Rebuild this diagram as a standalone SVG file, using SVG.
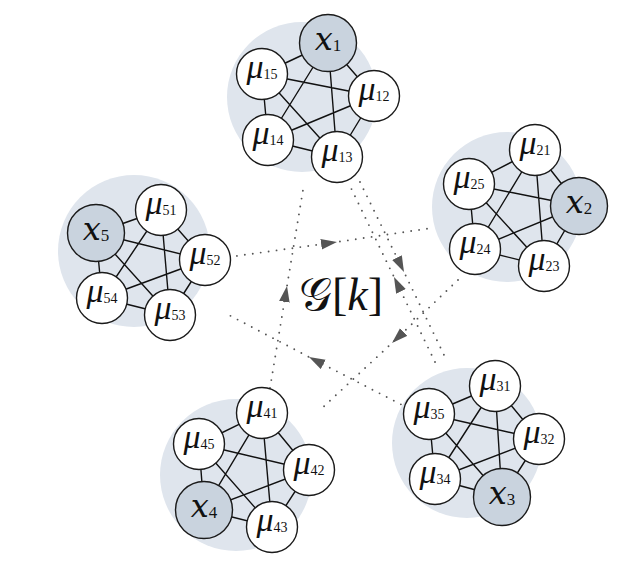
<svg xmlns="http://www.w3.org/2000/svg" width="638" height="582" viewBox="0 0 638 582">
<defs>
<style>
.bg{fill:#dfe5ed;stroke:none}
.e{fill:none;stroke:#111;stroke-width:1.4}
.dot{fill:none;stroke:#555;stroke-width:1.9;stroke-linecap:round;stroke-dasharray:0 8;marker-mid:url(#ah)}
.mu{fill:#fff;stroke:#1a1a1a;stroke-width:1.4}
.xn{fill:#c9d3de;stroke:#1a1a1a;stroke-width:1.4}
.t{font-family:"Liberation Serif","DejaVu Serif",serif;font-style:italic;fill:#111;text-anchor:middle}
.tm{font-size:34px}
.tx{font-size:32px;font-family:"DejaVu Serif","Liberation Serif",serif}
.s{font-style:normal;font-family:"Liberation Serif",serif}
.sm{font-size:14px}
.sx{font-size:17px}
</style>
<marker id="ah" viewBox="0 0 15 10" refX="15" refY="5" markerWidth="16" markerHeight="11" markerUnits="userSpaceOnUse" orient="auto">
<path d="M0 0L15 5L0 10z" fill="#555"/>
</marker>
</defs>
<rect width="638" height="582" fill="#fff"/>
<g id="clusters">
<circle class="bg" cx="302" cy="97" r="75"/>
<circle class="bg" cx="507" cy="207" r="75"/>
<circle class="bg" cx="467" cy="443" r="75"/>
<circle class="bg" cx="236" cy="475" r="76"/>
<circle class="bg" cx="134" cy="251" r="76"/>
</g>
<g id="connectors">
<path class="e" d="M328 43L374 96M328 43L337 157M328 43L268 140M328 43L262 74M374 96L337 157M374 96L268 140M374 96L262 74M337 157L268 140M337 157L262 74M268 140L262 74"/>
<path class="e" d="M535 150L579 206M535 150L544 266M535 150L475 249M535 150L469 184M579 206L544 266M579 206L475 249M579 206L469 184M544 266L475 249M544 266L469 184M475 249L469 184"/>
<path class="e" d="M495 386L539 439M495 386L502 497M495 386L435 479M495 386L429 414M539 439L502 497M539 439L435 479M539 439L429 414M502 497L435 479M502 497L429 414M435 479L429 414"/>
<path class="e" d="M262 413L309 470M262 413L272 527M262 413L204 510M262 413L199 444M309 470L272 527M309 470L204 510M309 470L199 444M272 527L204 510M272 527L199 444M204 510L199 444"/>
<path class="e" d="M161 210L205 260M161 210L170 315M161 210L102 298M161 210L96 233M205 260L170 315M205 260L102 298M205 260L96 233M170 315L102 298M170 315L96 233M102 298L96 233"/>
<path class="dot" d="M229 257L337 242L432 228"/>
<path class="dot" d="M270 388L287 286L303 190"/>
<path class="dot" d="M360 182L404 272L445 357"/>
<path class="dot" d="M435 362L394 277L350 186"/>
<path class="dot" d="M458 280L392 343L320 410"/>
<path class="dot" d="M408 408L309 357L225 313"/>
</g>
<g id="x1"><circle class="xn" cx="328" cy="43" r="28.5"/><text class="t tx" x="328" y="50">x<tspan class="s sx" dy="1">1</tspan></text></g>
<g id="mu12"><circle class="mu" cx="374" cy="96" r="25.5"/><text class="t tm" x="374" y="100">μ<tspan class="s sm" dy="1">12</tspan></text></g>
<g id="mu13"><circle class="mu" cx="337" cy="157" r="25.5"/><text class="t tm" x="337" y="161">μ<tspan class="s sm" dy="1">13</tspan></text></g>
<g id="mu14"><circle class="mu" cx="268" cy="140" r="25.5"/><text class="t tm" x="268" y="144">μ<tspan class="s sm" dy="1">14</tspan></text></g>
<g id="mu15"><circle class="mu" cx="262" cy="74" r="25.5"/><text class="t tm" x="262" y="78">μ<tspan class="s sm" dy="1">15</tspan></text></g>
<g id="mu21"><circle class="mu" cx="535" cy="150" r="25.5"/><text class="t tm" x="535" y="154">μ<tspan class="s sm" dy="1">21</tspan></text></g>
<g id="x2"><circle class="xn" cx="579" cy="206" r="28.5"/><text class="t tx" x="579" y="213">x<tspan class="s sx" dy="1">2</tspan></text></g>
<g id="mu23"><circle class="mu" cx="544" cy="266" r="25.5"/><text class="t tm" x="544" y="270">μ<tspan class="s sm" dy="1">23</tspan></text></g>
<g id="mu24"><circle class="mu" cx="475" cy="249" r="25.5"/><text class="t tm" x="475" y="253">μ<tspan class="s sm" dy="1">24</tspan></text></g>
<g id="mu25"><circle class="mu" cx="469" cy="184" r="25.5"/><text class="t tm" x="469" y="188">μ<tspan class="s sm" dy="1">25</tspan></text></g>
<g id="mu31"><circle class="mu" cx="495" cy="386" r="25.5"/><text class="t tm" x="495" y="390">μ<tspan class="s sm" dy="1">31</tspan></text></g>
<g id="mu32"><circle class="mu" cx="539" cy="439" r="25.5"/><text class="t tm" x="539" y="443">μ<tspan class="s sm" dy="1">32</tspan></text></g>
<g id="x3"><circle class="xn" cx="502" cy="497" r="28.5"/><text class="t tx" x="502" y="504">x<tspan class="s sx" dy="1">3</tspan></text></g>
<g id="mu34"><circle class="mu" cx="435" cy="479" r="25.5"/><text class="t tm" x="435" y="483">μ<tspan class="s sm" dy="1">34</tspan></text></g>
<g id="mu35"><circle class="mu" cx="429" cy="414" r="25.5"/><text class="t tm" x="429" y="418">μ<tspan class="s sm" dy="1">35</tspan></text></g>
<g id="mu41"><circle class="mu" cx="262" cy="413" r="25.5"/><text class="t tm" x="262" y="417">μ<tspan class="s sm" dy="1">41</tspan></text></g>
<g id="mu42"><circle class="mu" cx="309" cy="470" r="25.5"/><text class="t tm" x="309" y="474">μ<tspan class="s sm" dy="1">42</tspan></text></g>
<g id="mu43"><circle class="mu" cx="272" cy="527" r="25.5"/><text class="t tm" x="272" y="531">μ<tspan class="s sm" dy="1">43</tspan></text></g>
<g id="x4"><circle class="xn" cx="204" cy="510" r="28.5"/><text class="t tx" x="204" y="517">x<tspan class="s sx" dy="1">4</tspan></text></g>
<g id="mu45"><circle class="mu" cx="199" cy="444" r="25.5"/><text class="t tm" x="199" y="448">μ<tspan class="s sm" dy="1">45</tspan></text></g>
<g id="mu51"><circle class="mu" cx="161" cy="210" r="25.5"/><text class="t tm" x="161" y="214">μ<tspan class="s sm" dy="1">51</tspan></text></g>
<g id="mu52"><circle class="mu" cx="205" cy="260" r="25.5"/><text class="t tm" x="205" y="264">μ<tspan class="s sm" dy="1">52</tspan></text></g>
<g id="mu53"><circle class="mu" cx="170" cy="315" r="25.5"/><text class="t tm" x="170" y="319">μ<tspan class="s sm" dy="1">53</tspan></text></g>
<g id="mu54"><circle class="mu" cx="102" cy="298" r="25.5"/><text class="t tm" x="102" y="302">μ<tspan class="s sm" dy="1">54</tspan></text></g>
<g id="x5"><circle class="xn" cx="96" cy="233" r="28.5"/><text class="t tx" x="96" y="240">x<tspan class="s sx" dy="1">5</tspan></text></g>
<g id="label"><text x="341" y="310" font-family="'DejaVu Serif','Liberation Serif','Noto Sans',serif" font-size="46" fill="#111" text-anchor="middle">𝒢<tspan font-family="'Liberation Serif',serif">[</tspan><tspan font-family="'Liberation Serif',serif" font-style="italic">k</tspan><tspan font-family="'Liberation Serif',serif">]</tspan></text></g>
</svg>
